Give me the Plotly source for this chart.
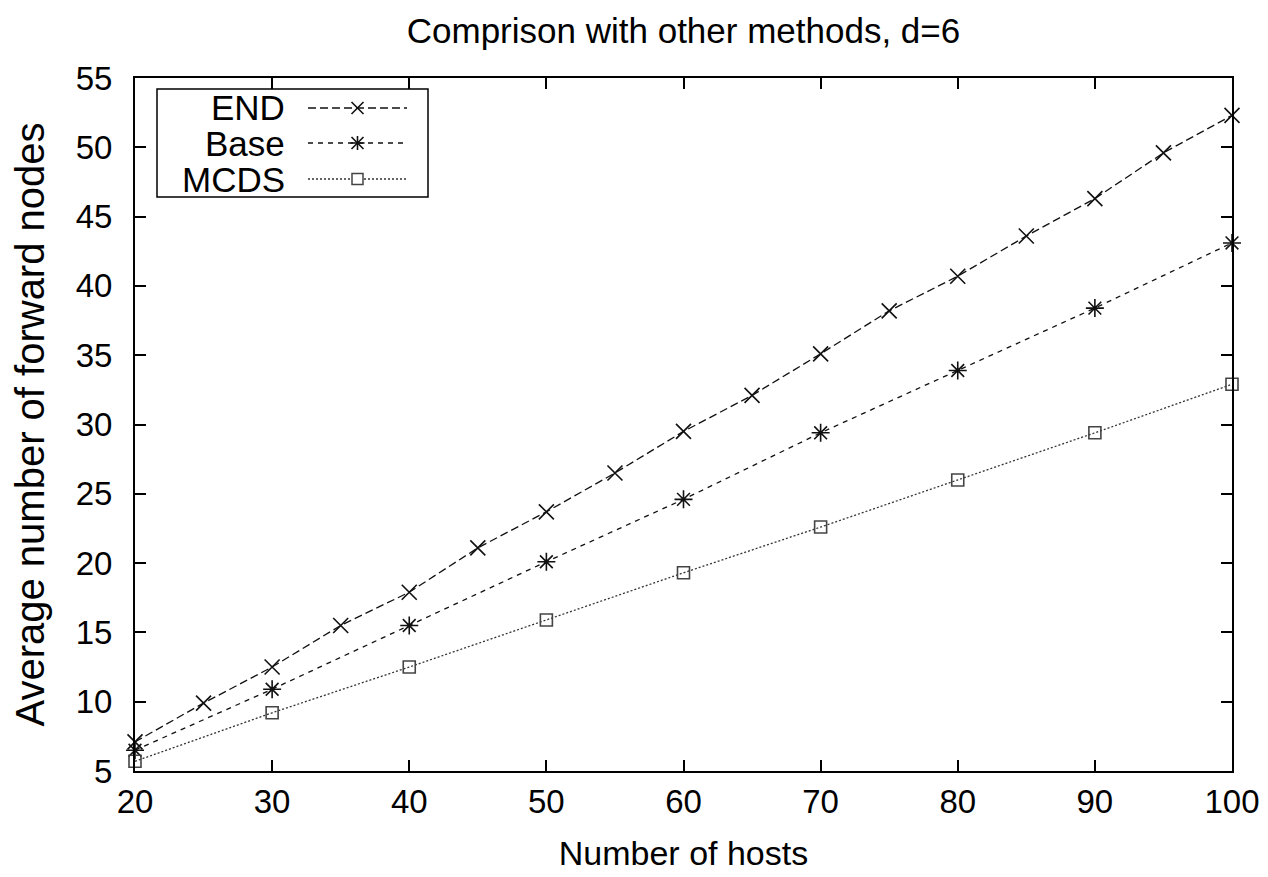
import plotly.graph_objects as go

# ---- data ----
hosts_end = [20, 25, 30, 35, 40, 45, 50, 55, 60, 65, 70, 75, 80, 85, 90, 95, 100]
end_vals = [7.1, 9.9, 12.5, 15.5, 17.9, 21.1, 23.7, 26.5, 29.5, 32.1, 35.1, 38.2, 40.7, 43.6, 46.3, 49.6, 52.3]
hosts_other = [20, 30, 40, 50, 60, 70, 80, 90, 100]
base_vals = [6.5, 10.9, 15.5, 20.1, 24.6, 29.4, 33.9, 38.4, 43.1]
mcds_vals = [5.7, 9.2, 12.5, 15.9, 19.3, 22.6, 26.0, 29.4, 32.9]
series_names = ["END", "Base", "MCDS"]
x_ticks = [20, 30, 40, 50, 60, 70, 80, 90, 100]
y_ticks = [5, 10, 15, 20, 25, 30, 35, 40, 45, 50, 55]

FONT = "Liberation Sans, Arial, Helvetica, sans-serif"
OFF = 8  # default page body margin
W, H = 1268 - OFF, 877 - OFF
L, R, T, B = 135 - OFF, 36, 78 - OFF, 106
PW, PH = W - L - R, H - T - B

fig = go.Figure()
styles = [
    dict(dash="8px,4px", color="#111", symbol="x-thin-open", size=15, mcolor="#111"),
    dict(dash="5px,5px", color="#111", symbol="asterisk-open", size=15, mcolor="#111"),
    dict(dash="2px,2px", color="#333", symbol="square-open", size=12, mcolor="#444"),
]
data = [(hosts_end, end_vals), (hosts_other, base_vals), (hosts_other, mcds_vals)]
for (xs, ys), name, st in zip(data, series_names, styles):
    fig.add_trace(go.Scatter(
        x=xs, y=ys, name=name, mode="lines+markers",
        line=dict(color=st["color"], width=1.3, dash=st["dash"]),
        marker=dict(symbol=st["symbol"], size=st["size"], color=st["mcolor"],
                    line=dict(width=1.6, color=st["mcolor"])),
        cliponaxis=False, showlegend=False,
    ))

# ---- gnuplot-style legend (text right-aligned, sample on the right) ----
# page-pixel -> paper helpers
def px(x):
    return (x - OFF - L) / PW

def py(y):
    return (H - B - (y - OFF)) / PH

shapes = []
annotations = []
shapes.append(dict(type="rect", xref="paper", yref="paper",
                   x0=px(157), x1=px(428), y0=py(89), y1=py(197),
                   line=dict(color="black", width=1.5), fillcolor="white", layer="above"))
rows = [108, 143, 179]
for name, st, ry in zip(series_names, styles, rows):
    annotations.append(dict(xref="paper", yref="paper", x=px(287), y=py(ry),
                            text=name, showarrow=False, xanchor="right", yanchor="middle",
                            font=dict(family=FONT, size=35, color="black")))
    shapes.append(dict(type="line", xref="paper", yref="paper",
                       x0=px(308), x1=px(407), y0=py(ry), y1=py(ry),
                       line=dict(color=st["color"], width=1.3, dash=st["dash"]), layer="above"))
    cx, s = 357.5, 6
    mc = st["mcolor"]
    if st["symbol"] in ("x-thin-open", "asterisk-open"):
        for (a, b, c, d) in [(-s, -s, s, s), (-s, s, s, -s)]:
            shapes.append(dict(type="line", xref="paper", yref="paper",
                               x0=px(cx + a), y0=py(ry + b), x1=px(cx + c), y1=py(ry + d),
                               line=dict(color=mc, width=1.6), layer="above"))
    if st["symbol"] == "asterisk-open":
        for (a, b, c, d) in [(0, -s - 1, 0, s + 1), (-s - 1, 0, s + 1, 0)]:
            shapes.append(dict(type="line", xref="paper", yref="paper",
                               x0=px(cx + a), y0=py(ry + b), x1=px(cx + c), y1=py(ry + d),
                               line=dict(color=mc, width=1.6), layer="above"))
    if st["symbol"] == "square-open":
        shapes.append(dict(type="rect", xref="paper", yref="paper",
                           x0=px(cx - 5.5), x1=px(cx + 5.5), y0=py(ry + 5.5), y1=py(ry - 5.5),
                           line=dict(color=mc, width=1.5), fillcolor="white", layer="above"))

axis_common = dict(
    showline=True, linecolor="black", linewidth=2, mirror="ticks",
    ticks="inside", ticklen=11, tickwidth=2, tickcolor="black",
    showgrid=False, zeroline=False, automargin=False,
    tickfont=dict(family=FONT, size=33, color="black"),
)

fig.update_layout(
    width=W, height=H,
    margin=dict(l=L, r=R, t=T, b=B),
    paper_bgcolor="white", plot_bgcolor="white",
    title=dict(text="Comprison with other methods, d=6", x=0.5, xref="paper",
               y=1 - (31 - OFF) / H, yref="container", yanchor="middle", xanchor="center",
               font=dict(family=FONT, size=35, color="black")),
    xaxis=dict(range=[20, 100], tickvals=x_ticks, ticktext=[str(v) for v in x_ticks],
               title=dict(text="Number of hosts", standoff=23,
                          font=dict(family=FONT, size=34, color="black")),
               ticklabelstandoff=0, **axis_common),
    yaxis=dict(range=[5, 55], tickvals=y_ticks, ticktext=[str(v) for v in y_ticks],
               title=dict(text="Average number of forward nodes", standoff=22,
                          font=dict(family=FONT, size=40, color="black")),
               ticklabelstandoff=14, **axis_common),
    shapes=shapes, annotations=annotations,
)

fig.write_html("out.html")
